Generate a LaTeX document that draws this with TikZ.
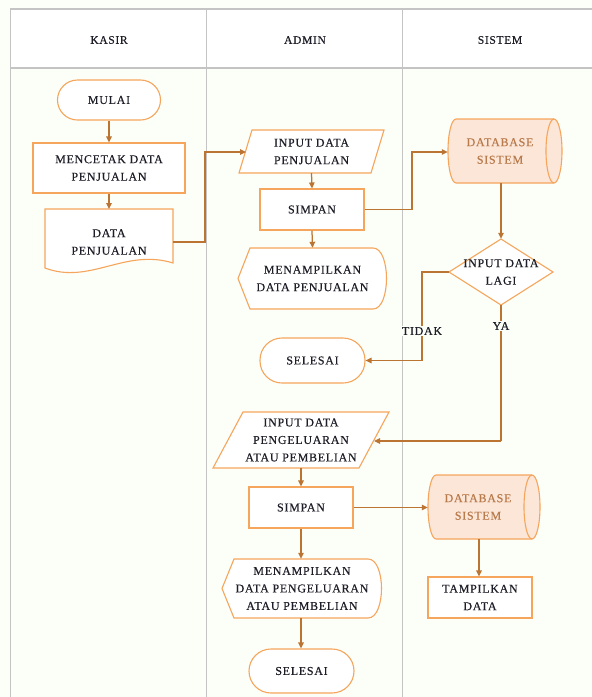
\documentclass[tikz,border=0pt]{standalone}
\usepackage{fontspec}
\setmainfont{Liberation Serif}[LetterSpace=6, FakeBold=0.3]
\usetikzlibrary{arrows.meta,calc}
\definecolor{ob}{HTML}{F5A55C}
\definecolor{ar}{HTML}{BB7432}
\definecolor{cf}{HTML}{FCE6D8}
\definecolor{ct}{HTML}{B97A4C}
\definecolor{bg}{HTML}{FCFEF8}
\definecolor{gl}{HTML}{C4C4C4}
\definecolor{tx}{HTML}{1E1E28}
\begin{document}
\begin{tikzpicture}[x=1pt,y=-1pt,
  txt/.style={font=\fontsize{12}{17.5}\selectfont, text=tx, align=center, inner sep=0pt},
  outl/.style={draw=ob, line width=1.1pt, fill=white},
  box/.style={txt, outl},
  term/.style={box, rounded corners=#1},
  flow/.style={draw=ar, line width=1.25pt, -{Triangle[length=6pt,width=5.5pt]}},
  plain/.style={draw=ar, line width=1.25pt},
  lane/.style={draw=gl, line width=1.4pt},
  lbl/.style={txt, fill=bg, inner sep=1pt}
]
\useasboundingbox (0,0) rectangle (592,697);
\fill[bg] (0,0) rectangle (592,697);
\fill[white] (10.5,9) rectangle (592,68);
\draw[lane] (592,9) -- (10.5,9) -- (10.5,697);
\draw[lane] (10.5,68) -- (592,68);
\draw[lane] (206.5,9) -- (206.5,697);
\draw[lane] (402.5,9) -- (402.5,697);
\node[txt, font=\fontsize{11.5}{13}\selectfont] (hk) at (109,40) {KASIR};
\node[txt, font=\fontsize{11.5}{13}\selectfont] (ha) at (305,40) {ADMIN};
\node[txt, font=\fontsize{11.5}{13}\selectfont] (hs) at (500,40) {SISTEM};

% KASIR lane
\node[term=20pt, minimum width=103pt, minimum height=40pt] (mulai) at (109,100) {MULAI};
\node[box, minimum width=152pt, minimum height=50pt] (cetak) at (109,168) {MENCETAK DATA\\PENJUALAN};
\draw[outl] (45,209) -- (173,209) -- (173,263) .. controls (125,248) and (90,285) .. (45,268) -- cycle;
\node[txt, minimum width=128pt, minimum height=40pt] (doc) at (109,242) {DATA\\PENJUALAN};
\draw[flow] (mulai) -- (cetak);
\draw[flow] (cetak) -- (cetak.south |- 0,209);

% ADMIN lane, first part
\draw[outl] (239,173) -- (252,130) -- (384,130) -- (371,173) -- cycle;
\node[txt, minimum width=145pt, minimum height=43pt] (pin1) at (311.5,151.5) {INPUT DATA\\PENJUALAN};
\coordinate (pin1in) at (246,152);
\node[box, minimum width=104pt, minimum height=41pt] (simp1) at (312,209.5) {SIMPAN};
\draw[outl] (238,278.5) -- (250,248) -- (373,248) .. controls (391,248) and (391,309) .. (373,309) -- (250,309) -- cycle;
\node[txt, minimum width=149pt, minimum height=61pt] (disp1) at (312.5,278.5) {MENAMPILKAN\\DATA PENJUALAN};
\node[term=22pt, minimum width=105pt, minimum height=45pt] (sel1) at (312.5,360.5) {SELESAI};

\draw[flow] (doc.east) -- (205,242) -- (205,152) -- (pin1in);
\draw[flow] (pin1.south) -- (simp1.north);
\draw[flow] (simp1.south) -- (disp1.north);

% SISTEM lane, first part
\draw[draw=ob, line width=1.1pt, fill=cf] (554,119) -- (456,119) arc[start angle=90, end angle=270, x radius=8pt, y radius=32pt] -- (554,183) arc[start angle=270, end angle=450, x radius=8pt, y radius=32pt];
\draw[draw=ob, line width=1.1pt] (554,119) arc[start angle=90, end angle=270, x radius=8pt, y radius=32pt];
\node[txt, text=ct, minimum width=104pt, minimum height=64pt, text width=100pt] (cyl1) at (500,151) {DATABASE\\SISTEM};
\draw[flow] (simp1.east) -- (412,209.5) -- (412,152) -- (cyl1.west |- 0,152);

\draw[outl] (501,239) -- (553,272) -- (501,305) -- (449,272) -- cycle;
\node[txt, minimum width=104pt, minimum height=66pt] (dia1) at (501,272) {INPUT DATA\\LAGI};
\draw[flow] (dia1.north |- 0,183) -- (dia1.north);

\draw[flow] (dia1.west) -- (422,272) -- (422,360.5) -- (sel1.east);
\node[lbl] (tidak) at (422,331) {TIDAK};

% ADMIN lane, second part
\draw[outl] (213,468) -- (243,412) -- (389,412) -- (359,468) -- cycle;
\node[txt, minimum width=176pt, minimum height=56pt] (pin2) at (301,440) {INPUT DATA\\PENGELUARAN\\ATAU PEMBELIAN};
\coordinate (pin2in) at (374,441);
\draw[plain] (dia1.south) -- (501,441);
\draw[flow] (501,441) -- (pin2in);
\node[lbl] (ya) at (501,326) {YA};

\node[box, minimum width=104pt, minimum height=41pt] (simp2) at (301,507.5) {SIMPAN};
\draw[flow] (pin2.south) -- (simp2.north);

\draw[outl] (222,588.5) -- (234,559) -- (368,559) .. controls (386,559) and (386,618) .. (368,618) -- (234,618) -- cycle;
\node[txt, minimum width=160pt, minimum height=59pt] (disp2) at (302,588.5) {MENAMPILKAN\\DATA PENGELUARAN\\ATAU PEMBELIAN};
\draw[flow] (simp2.south) -- (disp2.north -| simp2.south);

\node[term=22pt, minimum width=105pt, minimum height=44pt] (sel2) at (301.5,671) {SELESAI};
\draw[flow] (disp2.south -| simp2.south) -- (sel2.north -| simp2.south);

% SISTEM lane, second part
\draw[draw=ob, line width=1.1pt, fill=cf] (532,475) -- (436,475) arc[start angle=90, end angle=270, x radius=8pt, y radius=32pt] -- (532,539) arc[start angle=270, end angle=450, x radius=8pt, y radius=32pt];
\draw[draw=ob, line width=1.1pt] (532,475) arc[start angle=90, end angle=270, x radius=8pt, y radius=32pt];
\node[txt, text=ct, minimum width=100pt, minimum height=64pt, text width=100pt] (cyl2) at (478,507) {DATABASE\\SISTEM};
\draw[flow] (simp2.east) -- (cyl2.west |- simp2.east);

\node[box, minimum width=104pt, minimum height=41pt] (tamp) at (480,597.5) {TAMPILKAN\\DATA};
\draw[flow] (cyl2.south -| 479,0) -- (tamp.north -| 479,0);
\end{tikzpicture}
\end{document}
